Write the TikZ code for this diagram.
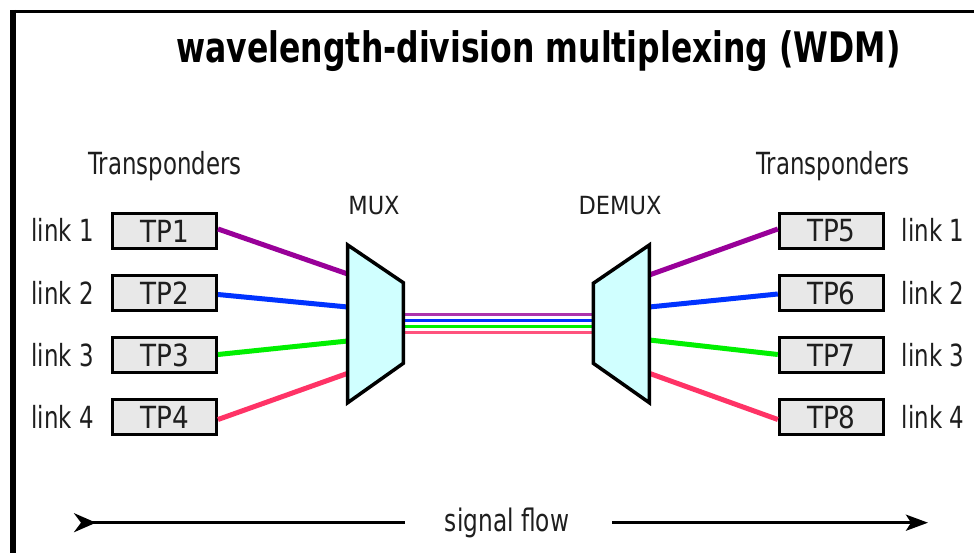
\documentclass[tikz,border=0pt]{standalone}
\usepackage{fontspec}
\setmainfont[FakeStretch=0.75]{DejaVu Sans}
\newfontfamily\tpfont[FakeStretch=0.86]{DejaVu Sans}
\newfontfamily\muxfont[FakeStretch=0.9]{DejaVu Sans}
\usetikzlibrary{arrows.meta,calc}
\definecolor{cPurple}{RGB}{153,0,153}
\definecolor{cBlue}{RGB}{0,51,255}
\definecolor{cGreen}{RGB}{0,240,0}
\definecolor{cPink}{RGB}{255,51,102}
\definecolor{muxcyan}{RGB}{208,255,255}
\definecolor{boxgray}{RGB}{232,232,232}
\definecolor{txt}{RGB}{30,30,30}
\tikzset{
  tpbox/.style={draw=black, line width=3pt, fill=boxgray, minimum width=104pt, minimum height=35pt, inner sep=0pt, font=\tpfont\fontsize{30.5}{30.5}\selectfont, text=txt},
  lbl/.style={anchor=base, inner sep=0pt, font=\fontsize{30.5}{30.5}\selectfont, text=txt},
  muxlbl/.style={anchor=base, inner sep=0pt, font=\muxfont\fontsize{25}{25}\selectfont, text=txt},
  fiber/.style={line width=5pt},
  bus/.style={line width=3pt},
  muxshape/.style={draw=black, line width=3.5pt, fill=muxcyan, line join=miter},
  flowline/.style={line width=3pt, black}
}
\begin{document}
\begin{tikzpicture}[x=1pt,y=-1pt]
\useasboundingbox (0,0) rectangle (974,553);
\fill[white] (0,0) rectangle (974,553);
% frame
\draw[line width=3.5pt] (10,11.7) -- (974,11.7);
\draw[line width=6pt] (13,10) -- (13,553);

% title
\node[anchor=base, inner sep=0pt, font=\bfseries\fontsize{42}{42}\selectfont] (title) at (538.5,63) {wavelength-division multiplexing (WDM)};

% headers
\node[lbl] (trL) at (165,175) {Transponders};
\node[lbl] (trR) at (833,175) {Transponders};
\node[muxlbl] (muxlabel) at (374,215) {MUX};
\node[muxlbl] (demuxlabel) at (620,215) {DEMUX};

% transponders
\node[tpbox] (tp1) at (164.5,231) {TP1};
\node[tpbox] (tp2) at (164.5,293) {TP2};
\node[tpbox] (tp3) at (164.5,355) {TP3};
\node[tpbox] (tp4) at (164.5,417) {TP4};
\node[tpbox] (tp5) at (831.3,231) {TP5};
\node[tpbox] (tp6) at (831.3,293) {TP6};
\node[tpbox] (tp7) at (831.3,355) {TP7};
\node[tpbox] (tp8) at (831.3,417) {TP8};

% link labels
\node[lbl] (lL1) at (62.5,242) {link 1};
\node[lbl] (lL2) at (62.5,304) {link 2};
\node[lbl] (lL3) at (62.5,366) {link 3};
\node[lbl] (lL4) at (62.5,428) {link 4};
\node[lbl] (lR1) at (933,242) {link 1};
\node[lbl] (lR2) at (933,304) {link 2};
\node[lbl] (lR3) at (933,366) {link 3};
\node[lbl] (lR4) at (933,428) {link 4};

% mux / demux ports
\coordinate (mi1) at (347.7,274);
\coordinate (mi2) at (347.7,307);
\coordinate (mi3) at (347.7,341);
\coordinate (mi4) at (347.7,373.3);
\coordinate (do1) at (649.3,275);
\coordinate (do2) at (649.3,307);
\coordinate (do3) at (649.3,340);
\coordinate (do4) at (649.3,373.3);

% fibres from transponders
\draw[fiber, cPurple] ($(tp1.east)+(0,-2)$) -- (mi1);
\draw[fiber, cBlue] ($(tp2.east)+(0,1.5)$) -- (mi2);
\draw[fiber, cGreen] ($(tp3.east)+(0,-0.5)$) -- (mi3);
\draw[fiber, cPink] ($(tp4.east)+(0,2.5)$) -- (mi4);
\draw[fiber, cPurple] (do1) -- ($(tp5.west)+(0,-2)$);
\draw[fiber, cBlue] (do2) -- ($(tp6.west)+(0,1)$);
\draw[fiber, cGreen] (do3) -- ($(tp7.west)+(0,-0.5)$);
\draw[fiber, cPink] (do4) -- ($(tp8.west)+(0,2.5)$);

% trunk
\coordinate (mo1) at (403.3,314.3); \coordinate (di1) at (593.3,314.3);
\coordinate (mo2) at (403.3,320.3); \coordinate (di2) at (593.3,320.3);
\coordinate (mo3) at (403.3,326.6); \coordinate (di3) at (593.3,326.6);
\coordinate (mo4) at (403.3,332.5); \coordinate (di4) at (593.3,332.5);
\draw[bus, cPurple!80] (mo1) -- (di1);
\draw[bus, cBlue] (mo2) -- (di2);
\draw[bus, cGreen] (mo3) -- (di3);
\draw[bus, cPink!85] (mo4) -- (di4);

% mux / demux shapes
\draw[muxshape] (347.7,245) -- (403.3,282.7) -- (403.3,363.3) -- (347.7,402.7) -- cycle;
\draw[muxshape] (649.3,245) -- (593.3,283.3) -- (593.3,363.3) -- (649.3,402.7) -- cycle;

% signal flow
\node[lbl, font=\fontsize{31}{31}\selectfont] (sig) at (507,531) {signal flow};
\coordinate (sfA) at (74,522.7);
\coordinate (sfB) at (405,522.7);
\coordinate (sfC) at (612,522.7);
\coordinate (sfD) at (928,522.7);
\draw[flowline, {Stealth[reversed, length=22pt, width=19pt, inset=7pt]}-] (sfA) -- (sfB);
\draw[flowline, -{Stealth[length=22pt, width=16pt, inset=5pt]}] (sfC) -- (sfD);
\end{tikzpicture}
\end{document}
